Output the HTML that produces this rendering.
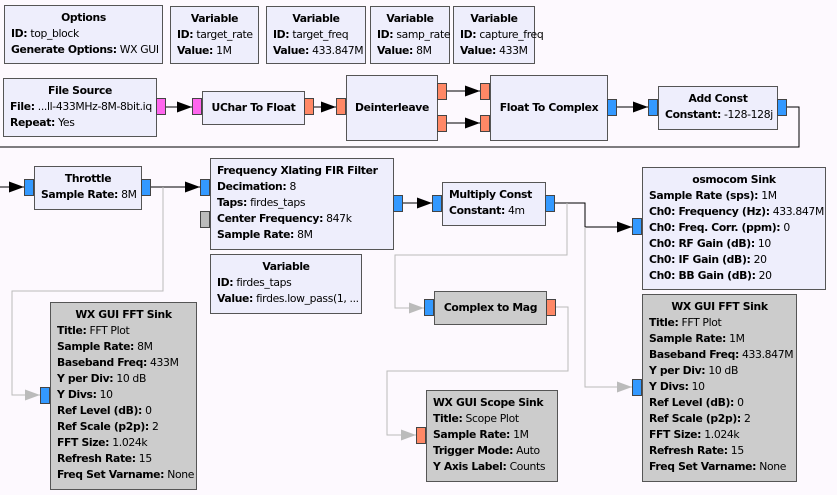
<!DOCTYPE html>
<html><head><meta charset="utf-8"><style>
body{margin:0;width:837px;height:495px;background:#fdf9fe;overflow:hidden;position:relative;font-family:"DejaVu Sans","Liberation Sans",sans-serif;font-size:10.8px;letter-spacing:-0.35px;color:#000}
.b{position:absolute;background:#eeeefc;border:1px solid #555;box-sizing:border-box;padding:4px 0 0 6px;line-height:16px;white-space:nowrap}
.g{background:#cccccc}
.b .t{font-weight:bold;text-align:center;margin-left:-6px}
.b .c{text-align:center;margin-left:-6px;font-weight:bold}
b{font-weight:bold}
.p{position:absolute;width:10px;height:17px;box-sizing:border-box;border:1px solid #444}
.bl{background:#3399ff}.mg{background:#ff66ee}.or{background:#ff8866}.gr{background:#bbbbbb}
svg{position:absolute;left:0;top:0}
</style></head><body>
<svg width="837" height="495">
<defs>
<marker id="a" markerWidth="15" markerHeight="11" refX="15" refY="5.5" orient="auto" markerUnits="userSpaceOnUse"><path d="M0,0L15,5.5L0,11z" fill="#000"/></marker>
<marker id="ga" markerWidth="15" markerHeight="11" refX="15" refY="5.5" orient="auto" markerUnits="userSpaceOnUse"><path d="M0,0L15,5.5L0,11z" fill="#bbb"/></marker>
</defs>
<g fill="none" stroke="#000" stroke-width="1">
<path d="M166,107H192" marker-end="url(#a)"/>
<path d="M314,107H336" marker-end="url(#a)"/>
<path d="M447,91H480" marker-end="url(#a)"/>
<path d="M447,123H480" marker-end="url(#a)"/>
<path d="M617,107H648" marker-end="url(#a)"/>
<path d="M787,107H799V147H0"/>
<path d="M0,187H24" marker-end="url(#a)"/>
<path d="M151,187H200" marker-end="url(#a)"/>
<path d="M403,203H432" marker-end="url(#a)"/>
<path d="M555,203H585V227H632" marker-end="url(#a)"/>
</g>
<g fill="none" stroke="#bbb" stroke-width="1">
<path d="M163,187V291H12V395H40" marker-end="url(#ga)"/>
<path d="M567,203V255H395V308H424" marker-end="url(#ga)"/>
<path d="M585,227V387H632" marker-end="url(#ga)"/>
<path d="M556,307H568V371H387V435H416" marker-end="url(#ga)"/>
</g>
</svg>

<div class="b" style="left:4px;top:5px;width:159px;height:59px"><div class="t">Options</div><b>ID:</b> top_block<br><b>Generate Options:</b> WX GUI</div>
<div class="b" style="left:170px;top:6px;width:89px;height:58px"><div class="t">Variable</div><b>ID:</b> target_rate<br><b>Value:</b> 1M</div>
<div class="b" style="left:266px;top:6px;width:100px;height:58px"><div class="t">Variable</div><b>ID:</b> target_freq<br><b>Value:</b> 433.847M</div>
<div class="b" style="left:370px;top:6px;width:80px;height:58px"><div class="t">Variable</div><b>ID:</b> samp_rate<br><b>Value:</b> 8M</div>
<div class="b" style="left:453px;top:6px;width:82px;height:58px"><div class="t">Variable</div><b>ID:</b> capture_freq<br><b>Value:</b> 433M</div>

<div class="b" style="left:3px;top:78px;width:154px;height:59px"><div class="t">File Source</div><b>File:</b> ...ll-433MHz-8M-8bit.iq<br><b>Repeat:</b> Yes</div>
<div class="p mg" style="left:156px;top:98px"></div>
<div class="p mg" style="left:192px;top:98px"></div>
<div class="b" style="left:202px;top:91px;width:103px;height:34px;padding-top:8px"><div class="c">UChar To Float</div></div>
<div class="p or" style="left:304px;top:98px"></div>
<div class="p or" style="left:336px;top:98px"></div>
<div class="b" style="left:346px;top:75px;width:92px;height:66px;padding-top:24px"><div class="c">Deinterleave</div></div>
<div class="p or" style="left:437px;top:83px"></div>
<div class="p or" style="left:437px;top:115px"></div>
<div class="p or" style="left:480px;top:83px"></div>
<div class="p or" style="left:480px;top:115px"></div>
<div class="b" style="left:490px;top:75px;width:118px;height:66px;padding-top:24px"><div class="c">Float To Complex</div></div>
<div class="p bl" style="left:607px;top:99px"></div>
<div class="p bl" style="left:648px;top:99px"></div>
<div class="b" style="left:658px;top:86px;width:120px;height:44px"><div class="t">Add Const</div><b>Constant:</b> -128-128j</div>
<div class="p bl" style="left:777px;top:99px"></div>

<div class="p bl" style="left:24px;top:179px"></div>
<div class="b" style="left:34px;top:166px;width:108px;height:44px"><div class="t">Throttle</div><b>Sample Rate:</b> 8M</div>
<div class="p bl" style="left:141px;top:179px"></div>

<div class="p bl" style="left:200px;top:179px"></div>
<div class="p gr" style="left:200px;top:211px"></div>
<div class="b" style="left:210px;top:158px;width:184px;height:92px"><b>Frequency Xlating FIR Filter</b><br><b>Decimation:</b> 8<br><b>Taps:</b> firdes_taps<br><b>Center Frequency:</b> 847k<br><b>Sample Rate:</b> 8M</div>
<div class="p bl" style="left:393px;top:195px"></div>
<div class="b" style="left:210px;top:254px;width:152px;height:60px"><div class="t">Variable</div><b>ID:</b> firdes_taps<br><b>Value:</b> firdes.low_pass(1, ...</div>

<div class="p bl" style="left:432px;top:195px"></div>
<div class="b" style="left:442px;top:182px;width:104px;height:44px"><div class="t" style="text-align:left;margin-left:0">Multiply Const</div><b>Constant:</b> 4m</div>
<div class="p bl" style="left:545px;top:195px"></div>

<div class="p bl" style="left:632px;top:218px"></div>
<div class="b" style="left:642px;top:167px;width:184px;height:123px"><div class="t">osmocom Sink</div><b>Sample Rate (sps):</b> 1M<br><b>Ch0: Frequency (Hz):</b> 433.847M<br><b>Ch0: Freq. Corr. (ppm):</b> 0<br><b>Ch0: RF Gain (dB):</b> 10<br><b>Ch0: IF Gain (dB):</b> 20<br><b>Ch0: BB Gain (dB):</b> 20</div>

<div class="p bl" style="left:424px;top:299px"></div>
<div class="b g" style="left:434px;top:291px;width:113px;height:34px;padding-top:8px"><div class="c">Complex to Mag</div></div>
<div class="p or" style="left:546px;top:299px"></div>

<div class="p bl" style="left:40px;top:387px"></div>
<div class="b g" style="left:50px;top:302px;width:147px;height:188px"><div class="t">WX GUI FFT Sink</div><b>Title:</b> FFT Plot<br><b>Sample Rate:</b> 8M<br><b>Baseband Freq:</b> 433M<br><b>Y per Div:</b> 10 dB<br><b>Y Divs:</b> 10<br><b>Ref Level (dB):</b> 0<br><b>Ref Scale (p2p):</b> 2<br><b>FFT Size:</b> 1.024k<br><b>Refresh Rate:</b> 15<br><b>Freq Set Varname:</b> None</div>

<div class="p or" style="left:416px;top:427px"></div>
<div class="b g" style="left:426px;top:390px;width:132px;height:92px"><b>WX GUI Scope Sink</b><br><b>Title:</b> Scope Plot<br><b>Sample Rate:</b> 1M<br><b>Trigger Mode:</b> Auto<br><b>Y Axis Label:</b> Counts</div>

<div class="p bl" style="left:632px;top:379px"></div>
<div class="b g" style="left:642px;top:294px;width:155px;height:188px"><div class="t">WX GUI FFT Sink</div><b>Title:</b> FFT Plot<br><b>Sample Rate:</b> 1M<br><b>Baseband Freq:</b> 433.847M<br><b>Y per Div:</b> 10 dB<br><b>Y Divs:</b> 10<br><b>Ref Level (dB):</b> 0<br><b>Ref Scale (p2p):</b> 2<br><b>FFT Size:</b> 1.024k<br><b>Refresh Rate:</b> 15<br><b>Freq Set Varname:</b> None</div>
</body></html>
